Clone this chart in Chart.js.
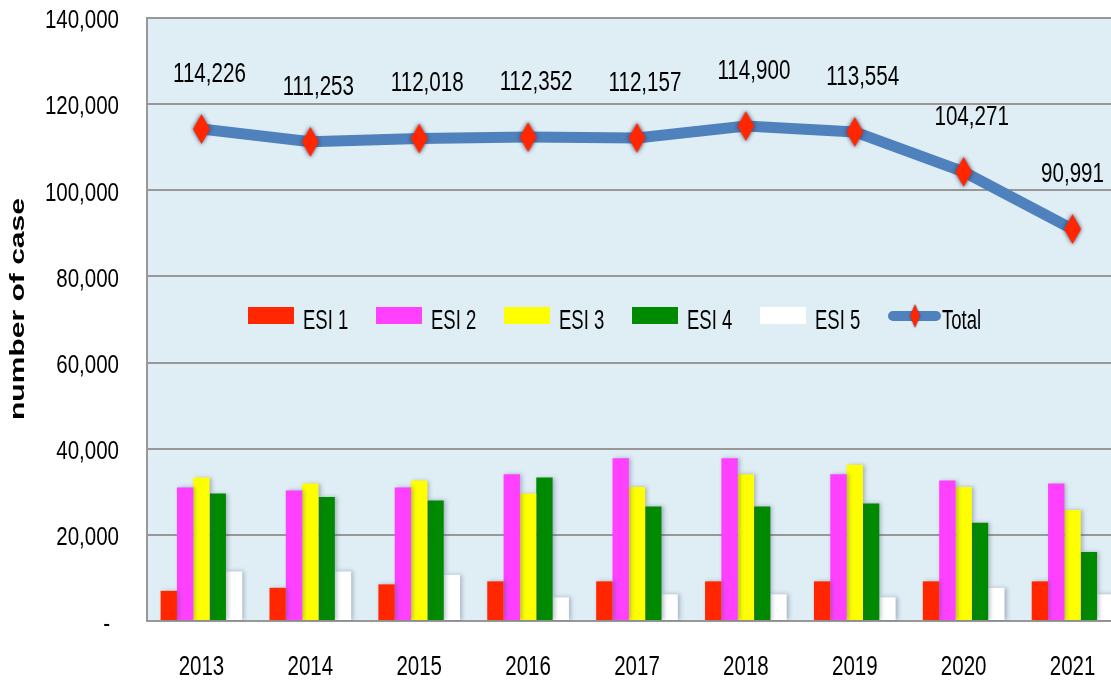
<!DOCTYPE html>
<html>
<head>
<meta charset="utf-8">
<script src="https://cdn.jsdelivr.net/npm/chart.js@4.4.1/dist/chart.umd.min.js"></script>
<style>
  html, body { margin: 0; padding: 0; background: #fff; overflow: hidden; }
  #wrap { width: 1111px; height: 680px; overflow: hidden; }
  #esiChart { display: block; }
</style>
</head>
<body>
<div id="wrap"><canvas id="esiChart" width="1130" height="680"></canvas></div>
<script>
const years = ['2013', '2014', '2015', '2016', '2017', '2018', '2019', '2020', '2021'];
const esi1 = [7000, 7700, 8500, 9200, 9200, 9200, 9200, 9200, 9200];
const esi2 = [31000, 30300, 31000, 34100, 37800, 37800, 34100, 32600, 31900];
const esi3 = [33300, 31900, 32600, 29600, 31100, 34100, 36300, 31100, 25800];
const esi4 = [29600, 28800, 28000, 33300, 26600, 26600, 27300, 22800, 16000];
const esi5 = [11500, 11500, 10700, 5500, 6200, 6200, 5500, 7700, 6200];
const totals = [114226, 111253, 112018, 112352, 112157, 114900, 113554, 104271, 90991];
const yMax = 140000;
const yStep = 20000;

const FONT = '"Liberation Sans", Arial, sans-serif';
const LINE_BLUE = '#4F81BD';
const GRID = '#989898';
const VISIBLE_RIGHT = 1104; // the page cuts the plot at 1111px

// the original text is tall and narrow, so labels are drawn with a vertical stretch
function tallText(ctx, text, x, y, size, sy, align) {
  ctx.save();
  ctx.font = size + 'px ' + FONT;
  ctx.fillStyle = '#000';
  ctx.textAlign = align;
  ctx.textBaseline = 'middle';
  ctx.translate(x, y);
  ctx.scale(1, sy);
  ctx.fillText(text, 0, 0);
  ctx.restore();
}

// elongated red diamond used for the total markers
function makeDiamond(w, h, pad, blur) {
  const c = document.createElement('canvas');
  c.width = w + pad * 2;
  c.height = h + pad * 2;
  const g = c.getContext('2d');
  g.shadowColor = 'rgba(35,55,95,0.9)';
  g.shadowBlur = blur;
  g.fillStyle = '#FF2600';
  g.beginPath();
  g.moveTo(pad + w / 2, pad);
  g.lineTo(pad + w, pad + h / 2);
  g.lineTo(pad + w / 2, pad + h);
  g.lineTo(pad, pad + h / 2);
  g.closePath();
  g.fill();
  return c;
}
const pointDiamond = makeDiamond(17, 30, 5, 4);
const legendDiamond = makeDiamond(10, 23, 3, 2);

const plotBg = {
  id: 'plotBg',
  beforeDraw(chart) {
    const { ctx, chartArea: a } = chart;
    ctx.save();
    ctx.fillStyle = '#DFEDF5';
    ctx.fillRect(a.left, a.top, a.right - a.left, a.bottom - a.top);
    ctx.restore();
  }
};

const barShadow = {
  id: 'barShadow',
  beforeDatasetDraw(chart, args) {
    if (args.meta.type !== 'bar') return;
    const ctx = chart.ctx;
    ctx.save();
    ctx.shadowColor = 'rgba(60,80,110,0.35)';
    ctx.shadowBlur = 4;
    ctx.shadowOffsetX = 2;
    ctx.shadowOffsetY = 0;
  },
  afterDatasetDraw(chart, args) {
    if (args.meta.type !== 'bar') return;
    chart.ctx.restore();
  }
};

const axisLabels = {
  id: 'axisLabels',
  afterDraw(chart) {
    const ctx = chart.ctx;
    const ys = chart.scales.y;
    ys.ticks.forEach(t => {
      const py = ys.getPixelForValue(t.value);
      if (t.value === 0) tallText(ctx, '-', 110, py + 4, 20.5, 1.3, 'right');
      else tallText(ctx, t.value.toLocaleString('en-US'), 119, py + 3, 20.5, 1.3, 'right');
    });
    const xs = chart.scales.x;
    xs.ticks.forEach((t, i) => {
      tallText(ctx, xs.getLabelForValue(t.value), xs.getPixelForTick(i), 667, 20.5, 1.36, 'center');
    });
  }
};

const totalLabels = {
  id: 'totalLabels',
  afterDatasetsDraw(chart) {
    const ctx = chart.ctx;
    const idx = chart.data.datasets.findIndex(d => d.type === 'line');
    const meta = chart.getDatasetMeta(idx);
    ctx.save();
    ctx.font = '20.6px ' + FONT;
    meta.data.forEach((pt, i) => {
      const txt = totals[i].toLocaleString('en-US');
      const half = ctx.measureText(txt).width / 2;
      const cx = Math.min(pt.x + 8, VISIBLE_RIGHT - half);
      tallText(ctx, txt, cx, pt.y - 55, 20.6, 1.36, 'center');
    });
    ctx.restore();
  }
};

const boxLegend = {
  id: 'boxLegend',
  afterDraw(chart) {
    const ctx = chart.ctx;
    const y = 316;
    let x = 248;
    chart.data.datasets.forEach(ds => {
      let tx = x + 55;
      if (ds.type === 'line') {
        ctx.save();
        ctx.strokeStyle = ds.borderColor;
        ctx.lineWidth = 10;
        ctx.lineCap = 'round';
        ctx.beginPath();
        ctx.moveTo(x + 5, y);
        ctx.lineTo(x + 48, y);
        ctx.stroke();
        ctx.restore();
        ctx.drawImage(legendDiamond, x + 27 - legendDiamond.width / 2, y - legendDiamond.height / 2);
        tx = x + 54;
      } else {
        ctx.save();
        ctx.fillStyle = ds.backgroundColor;
        ctx.fillRect(x, y - 9, 46, 17);
        ctx.restore();
      }
      ctx.save();
      ctx.font = '18.5px ' + FONT;
      ctx.fillStyle = '#000';
      ctx.textBaseline = 'alphabetic';
      ctx.translate(tx, 329);
      ctx.scale(1, 1.5);
      ctx.fillText(ds.label, 0, 0);
      ctx.restore();
      x += 128;
    });
  }
};

const yTitle = {
  id: 'yTitle',
  afterDraw(chart) {
    const ctx = chart.ctx;
    ctx.save();
    ctx.translate(18, 309);
    ctx.rotate(-Math.PI / 2);
    ctx.scale(1.43, 1);
    ctx.font = 'bold 21px ' + FONT;
    ctx.fillStyle = '#000';
    ctx.textAlign = 'center';
    ctx.textBaseline = 'middle';
    ctx.fillText('number of case', 0, 0);
    ctx.restore();
  }
};

new Chart(document.getElementById('esiChart'), {
  data: {
    labels: years,
    datasets: [
      { type: 'bar', label: 'ESI 1', data: esi1, backgroundColor: '#FF2600', order: 1 },
      { type: 'bar', label: 'ESI 2', data: esi2, backgroundColor: '#FF40FF', order: 1 },
      { type: 'bar', label: 'ESI 3', data: esi3, backgroundColor: '#FFFF00', order: 1 },
      { type: 'bar', label: 'ESI 4', data: esi4, backgroundColor: '#008A00', order: 1 },
      { type: 'bar', label: 'ESI 5', data: esi5, backgroundColor: '#FFFFFF', order: 1 },
      { type: 'line', label: 'Total', data: totals, order: 0,
        borderColor: LINE_BLUE, borderWidth: 11, tension: 0,
        pointStyle: pointDiamond, pointRadius: 10, pointHoverRadius: 10 }
    ]
  },
  options: {
    responsive: false,
    animation: false,
    layout: { autoPadding: false, padding: { top: 18, right: 3, left: 0, bottom: 0 } },
    datasets: { bar: { barPercentage: 1, categoryPercentage: 0.75, borderWidth: 0 } },
    plugins: {
      legend: { display: false },
      tooltip: { enabled: false }
    },
    scales: {
      x: {
        offset: true,
        grid: { drawOnChartArea: false, drawTicks: false },
        border: { display: true, color: GRID, width: 2 },
        ticks: { display: false },
        afterFit(s) { s.height = 59; }
      },
      y: {
        min: 0,
        max: yMax,
        grid: { color: GRID, lineWidth: 2, drawTicks: false },
        border: { display: true, color: GRID, width: 2 },
        ticks: { display: false, stepSize: yStep },
        afterFit(s) { s.width = 147; }
      }
    }
  },
  plugins: [plotBg, barShadow, axisLabels, totalLabels, boxLegend, yTitle]
});
</script>
</body>
</html>
